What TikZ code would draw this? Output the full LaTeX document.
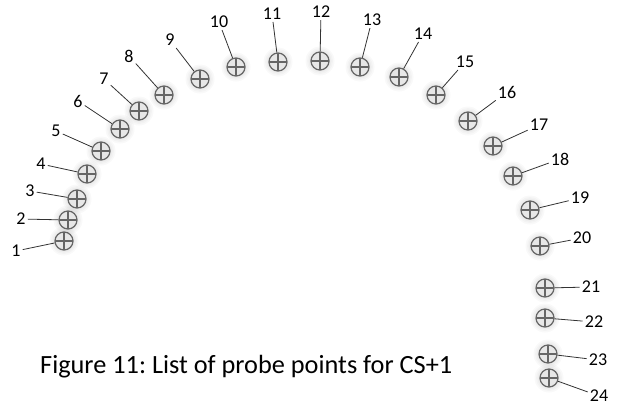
\documentclass[tikz,border=0pt]{standalone}
\usepackage{fontspec}
\setmainfont{Carlito}
\frenchspacing
\definecolor{probegray}{HTML}{666666}
\begin{document}
\begin{tikzpicture}[x=1pt,y=-1pt,
  probe/.style={circle, minimum size=18pt, inner sep=0pt, draw=probegray, line width=1.2pt,
    path picture={\draw[probegray, line width=1.1pt]
      (path picture bounding box.north) -- (path picture bounding box.south)
      (path picture bounding box.west) -- (path picture bounding box.east);}},
  tag/.style={font=\fontsize{18}{18}\selectfont, inner sep=2pt, text=black},
  leader/.style={draw=black!80, line width=0.8pt},
  halo/.style={fill=black, opacity=0.025}]
\fill[white] (0,0) rectangle (620,407);
\useasboundingbox (0,0) rectangle (620,407);
% probe points: index / centre / label centre
\foreach \i/\x/\y/\lx/\ly in {
  1/64/241/16/251, 2/68/220/21/219, 3/77/199/30/191, 4/87/174/41/164,
  5/101/151/56/131, 6/120/129/78/101, 7/139/111/104/79, 8/164/95/129/56,
  9/200/79/170/40, 10/236/67/219/22, 11/278/62/272/14, 12/320/61/321/12,
  13/360/67/372/20, 14/399/77/423/34, 15/436/95/465/62, 16/468/121/507/92,
  17/493/146/539/125, 18/513/176/560/159, 19/530/210/580/198, 20/540/246/582/238,
  21/545/288/591/287, 22/545/318/594/322, 23/548/354/598/360, 24/549/378/599/396}
{
  \foreach \r in {10,11.5,13,14.5} {\fill[halo] (\x,\y) circle (\r pt);}
  \node[probe] (p\i) at (\x,\y) {};
  \node[tag] (l\i) at (\lx,\ly) {\i};
  \draw[leader] (l\i) -- (p\i);
}
\node[anchor=base west, inner sep=0pt, font=\fontsize{26.3}{26.3}\selectfont, text=black]
  (caption) at (40,373) {Figure 11: List of probe points for CS+1};
\end{tikzpicture}
\end{document}
